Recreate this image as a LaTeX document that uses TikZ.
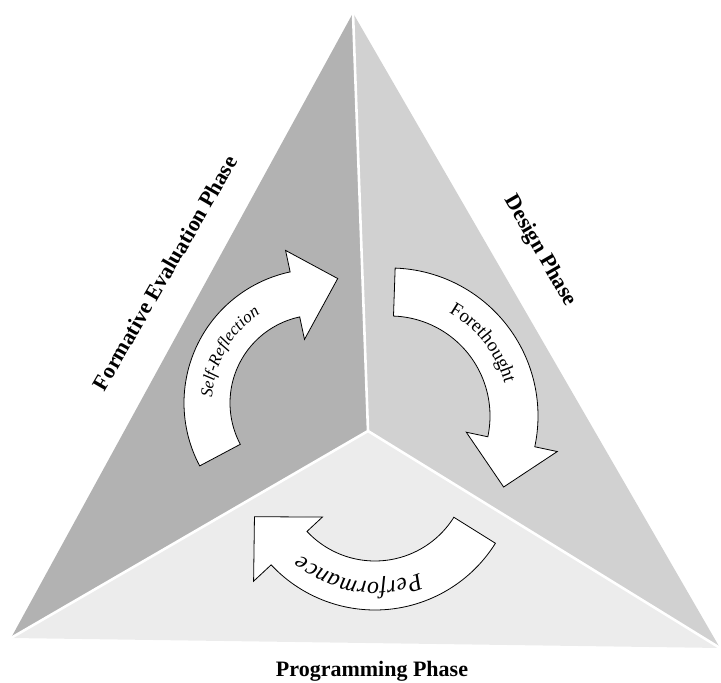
\documentclass[tikz,border=0pt]{standalone}
\usepackage{fontspec}
\setmainfont{Liberation Serif}
\definecolor{pyleft}{HTML}{B2B2B2}
\definecolor{pyright}{HTML}{D1D1D1}
\definecolor{pybase}{HTML}{ECECEC}
\usetikzlibrary{decorations.text}

\begin{document}
\begin{tikzpicture}[x=1pt,y=1pt,
  sep/.style={white,line width=2.6pt,line cap=round},
  arr/.style={draw=black,fill=white,line width=0.8pt,line join=miter},
  phase/.style={font=\fontsize{22}{22}\selectfont\bfseries,inner sep=0pt},
  curved/.style={decorate,decoration={text along path,text align=center,text={#1}}}]
  \useasboundingbox (0,0) rectangle (721,683);
  \coordinate (top) at (353,670);
  \coordinate (bl) at (11,45);
  \coordinate (br) at (720,35);
  \coordinate (mid) at (368,252);
  % the three faces
  \fill[pyleft] (top) -- (mid) -- (bl) -- cycle;
  \fill[pyright] (top) -- (br) -- (mid) -- cycle;
  \fill[pybase] (bl) -- (mid) -- (br) -- cycle;
  \draw[sep] (top) -- (mid) (bl) -- (mid) -- (br);
  % Forethought
  \begin{scope}[shift={(390,267)}]
    \draw[arr] (88:148) arc[start angle=88,end angle=-12,radius=148]
      -- (-12:171) -- (-32:134) -- (-12:78) -- (-12:100)
      arc[start angle=-12,end angle=88,radius=100] -- cycle;
    \path[curved={|\fontsize{19}{19}\selectfont|Forethought}]
      (88:119) arc[start angle=88,end angle=-12,radius=119];
  \end{scope}
  % Self-Reflection
  \begin{scope}[shift={(318,280)}]
    \draw[arr] (208:134) arc[start angle=208,end angle=102,radius=134]
      -- (102:156) -- (81:126) -- (102:65) -- (102:88)
      arc[start angle=102,end angle=208,radius=88] -- cycle;
    \path[curved={|\fontsize{17}{17}\selectfont\itshape|Self-Reflection}]
      (200:106) arc[start angle=200,end angle=100,radius=106];
  \end{scope}
  % Performance
  \begin{scope}[shift={(375,215)}]
    \draw[arr] (-32:142) arc[start angle=-32,end angle=-137,radius=142]
      -- (-137:166) -- (-158:130) -- (-137:72) -- (-137:93)
      arc[start angle=-137,end angle=-32,radius=93] -- cycle;
    \path[curved={|\fontsize{24}{24}\selectfont\itshape|Performance}]
      (-48.6:114) arc[start angle=-48.6,end angle=-148.6,radius=114];
  \end{scope}
  \node[phase,rotate=60] (fe) at (165,410) {Formative Evaluation Phase};
  \node[phase,rotate=-60] (dp) at (540,432) {Design Phase};
  \node[phase,anchor=base] (pp) at (372,6) {Programming Phase};
\end{tikzpicture}
\end{document}
